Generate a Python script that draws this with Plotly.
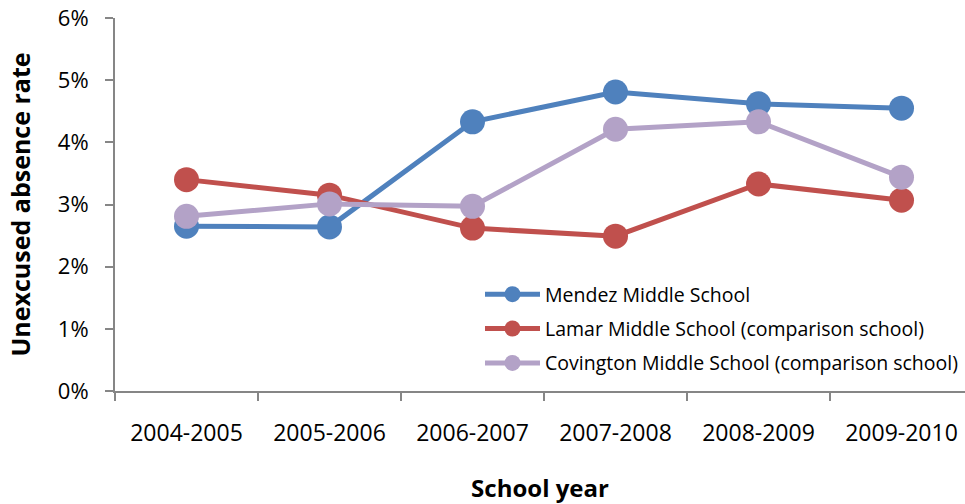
import plotly.graph_objects as go

years = ["2004-2005", "2005-2006", "2006-2007", "2007-2008", "2008-2009", "2009-2010"]
mendez = [2.65, 2.64, 4.33, 4.81, 4.62, 4.55]
lamar = [3.40, 3.15, 2.62, 2.49, 3.33, 3.07]
covington = [2.81, 3.01, 2.97, 4.21, 4.33, 3.44]

names = ["Mendez Middle School",
         "Lamar Middle School (comparison school)",
         "Covington Middle School (comparison school)"]
colors = ["#4F81BD", "#C0504D", "#B3A2C7"]
series = [mendez, lamar, covington]

FONT = "Open Sans"
fig = go.Figure()
for i, (nm, col, vals) in enumerate(zip(names, colors, series)):
    fig.add_trace(go.Scatter(
        x=years, y=[v / 100 for v in vals], name=nm, mode="lines+markers",
        line=dict(color=col, width=5),
        marker=dict(color=col, size=25),
        legendgroup=f"g{i}",
    ))

fig.update_layout(
    width=965, height=504,
    margin=dict(l=115, r=0, t=18, b=113),
    paper_bgcolor="white", plot_bgcolor="white",
    font=dict(family=FONT, color="black"),
    showlegend=True,
    legend=dict(
        x=(480 - 115) / 850, y=(391 - 275) / 373, xanchor="left", yanchor="top",
        font=dict(size=19.5, family=FONT), itemwidth=55,
        tracegroupgap=6, bgcolor="rgba(0,0,0,0)",
    ),
)
fig.update_xaxes(
    type="category", range=[-0.5, 5.444],
    showline=True, linecolor="#868686", linewidth=2,
    ticks="outside", tickson="boundaries", ticklen=8, tickcolor="#868686", tickwidth=2,
    showgrid=False, zeroline=False,
    tickfont=dict(size=23, family=FONT),
    ticklabelstandoff=20,
    title=dict(text="<b>School year</b>", font=dict(size=24, family=FONT), standoff=34),
    automargin=False,
)
fig.update_yaxes(
    range=[0, 0.06], dtick=0.01, tickformat=".0%",
    showline=True, linecolor="#868686", linewidth=2,
    ticks="outside", ticklen=8, tickcolor="#868686", tickwidth=2,
    showgrid=False, zeroline=False,
    tickfont=dict(size=22, family=FONT),
    ticklabelstandoff=12,
    title=dict(text="<b>Unexcused absence rate</b>", font=dict(size=25, family=FONT), standoff=20),
    automargin=False,
)
fig.write_html("out.html")
